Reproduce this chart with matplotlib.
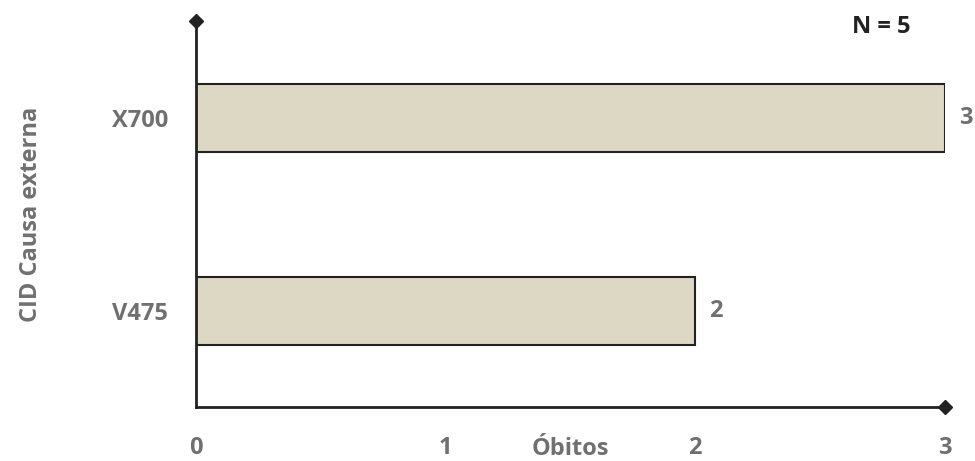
import matplotlib
matplotlib.use("Agg")
import matplotlib.pyplot as plt

# data
causes = ["V475", "X700"]
deaths = [2, 3]
x_ticks = [0, 1, 2, 3]
total_n = 5

plt.rcParams['font.family'] = ['Open Sans', 'DejaVu Sans']
plt.rcParams['font.weight'] = 'bold'

GRAY = "#707070"
DARK = "#222222"
BAR = "#DDD8C4"
FS = 17

fig = plt.figure(figsize=(9.75, 4.61), dpi=100)
ax = fig.add_axes([0.201, 0.117, 0.768, 0.837])

pos = list(range(len(causes)))
ax.barh(pos, deaths, height=0.35, color=BAR, edgecolor=DARK, linewidth=1.5)

ax.set_xlim(0, 3)
ax.set_ylim(-0.497, 1.503)

for s in ["top", "right"]:
    ax.spines[s].set_visible(False)
for s in ["left", "bottom"]:
    ax.spines[s].set_color(DARK)
    ax.spines[s].set_linewidth(2)

# diamond ends of the axis lines
ax.plot([0], [1.503], marker="D", color=DARK, markersize=7, clip_on=False)
ax.plot([3], [-0.497], marker="D", color=DARK, markersize=7, clip_on=False)

ax.set_xticks(x_ticks)
ax.set_xticklabels([str(t) for t in x_ticks], fontsize=FS, fontweight="bold", color=GRAY)
ax.set_yticks(pos)
ax.set_yticklabels(causes, fontsize=FS, fontweight="bold", color=GRAY)
ax.tick_params(axis="x", length=0, pad=21)
ax.tick_params(axis="y", length=0, pad=20)

ax.set_xlabel("Óbitos", fontsize=FS, fontweight="bold", color=GRAY, labelpad=-17)
ax.set_ylabel("CID Causa externa", fontsize=FS, fontweight="bold", color=GRAY, labelpad=50)

for p, v in zip(pos, deaths):
    ax.annotate(str(v), (v, p), xytext=(10, 0), textcoords="offset points",
                ha="left", va="center", fontsize=FS, fontweight="bold", color=GRAY,
                annotation_clip=False)

ax.text(0.915, 0.985, f"N = {total_n}", transform=ax.transAxes, ha="center", va="center",
        fontsize=FS, fontweight="bold", color=DARK)

fig.savefig("out.png", dpi=100)
